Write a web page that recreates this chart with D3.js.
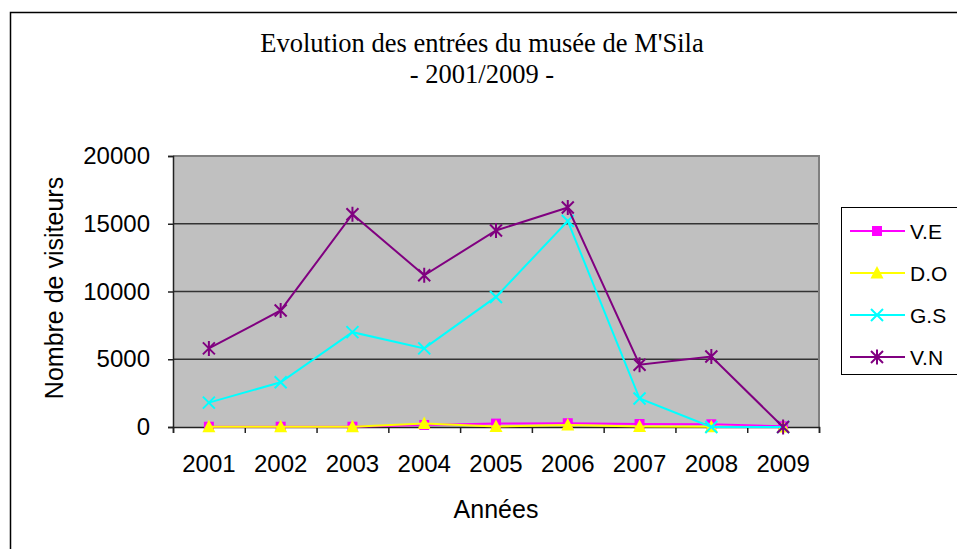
<!DOCTYPE html>
<html>
<head>
<meta charset="utf-8">
<script src="https://cdn.jsdelivr.net/npm/d3@7/dist/d3.min.js"></script>
<style>
  html, body { margin: 0; padding: 0; background: #fff; }
  svg { display: block; }
</style>
</head>
<body>
<svg id="chart" width="957" height="549"></svg>
<script>
// Visitor entries of the M'Sila museum, 2001–2009
const years = ["2001", "2002", "2003", "2004", "2005", "2006", "2007", "2008", "2009"];
const seriesNames = ["V.E", "D.O", "G.S", "V.N"];
const valuesVE = [20, 20, 20, 150, 250, 280, 220, 200, 50];
const valuesDO = [10, 10, 10, 250, 30, 150, 30, 10, 0];
const valuesGS = [1800, 3300, 7000, 5800, 9600, 15200, 2100, 0, 0];
const valuesVN = [5800, 8600, 15700, 11200, 14500, 16200, 4600, 5200, 0];
const yTicks = [0, 5000, 10000, 15000, 20000];

const titleLine1 = "Evolution des entrées du musée de M'Sila";
const titleLine2 = "- 2001/2009 -";
const xTitle = "Années";
const yTitle = "Nombre de visiteurs";

const series = [
  { name: seriesNames[0], values: valuesVE, color: "#ff00ff", marker: "square" },
  { name: seriesNames[1], values: valuesDO, color: "#ffff00", marker: "triangle" },
  { name: seriesNames[2], values: valuesGS, color: "#00ffff", marker: "x" },
  { name: seriesNames[3], values: valuesVN, color: "#800080", marker: "star" }
];

const svg = d3.select("#chart");
const axisFont = "'Liberation Sans', Arial, sans-serif";
const titleFont = "'Liberation Serif', 'Times New Roman', serif";
const tickSize = 24;
const axisTitleSize = 25;
const legendSize = 21;

const plot = { left: 173, right: 819, top: 156, bottom: 427 };

// outer chart frame
svg.append("rect")
  .attr("x", 10.5).attr("y", 12.5)
  .attr("width", 960).attr("height", 560)
  .attr("fill", "#fff").attr("stroke", "#000").attr("stroke-width", 1.5);

// title
svg.append("text")
  .attr("x", 482).attr("y", 52)
  .attr("text-anchor", "middle")
  .attr("font-family", titleFont).attr("font-size", 26.5)
  .text(titleLine1);
svg.append("text")
  .attr("x", 482).attr("y", 83)
  .attr("text-anchor", "middle")
  .attr("font-family", titleFont).attr("font-size", 26.5)
  .text(titleLine2);

const x = d3.scaleBand().domain(years).range([plot.left, plot.right]);
const xEdge = d3.scaleLinear().domain([0, years.length]).range([plot.left, plot.right]);
const y = d3.scaleLinear().domain([0, 20000]).range([plot.bottom, plot.top]);
const cx = d => x(d) + x.bandwidth() / 2;

// plot background
svg.append("rect")
  .attr("x", plot.left).attr("y", plot.top)
  .attr("width", plot.right - plot.left).attr("height", plot.bottom - plot.top)
  .attr("fill", "#c0c0c0");

// horizontal gridlines
svg.append("g")
  .selectAll("line")
  .data(yTicks.filter(t => t > 0 && t < 20000))
  .join("line")
  .attr("x1", plot.left).attr("x2", plot.right)
  .attr("y1", d => y(d)).attr("y2", d => y(d))
  .attr("stroke", "#333").attr("stroke-width", 1.5);

// plot frame (top and right in grey)
svg.append("path")
  .attr("d", `M${plot.left},${plot.top}H${plot.right}V${plot.bottom}`)
  .attr("fill", "none").attr("stroke", "#808080").attr("stroke-width", 2);

// y axis
const yAxis = svg.append("g")
  .attr("transform", `translate(${plot.left},0)`)
  .call(d3.axisLeft(y).tickValues(yTicks).tickSize(5).tickPadding(18).tickFormat(d3.format("d")));
yAxis.select(".domain").attr("stroke", "#222").attr("stroke-width", 1.5);
yAxis.selectAll(".tick line").attr("stroke", "#222").attr("stroke-width", 1.5);
yAxis.selectAll(".tick text")
  .attr("font-family", axisFont).attr("font-size", tickSize).attr("fill", "#000");

// x axis: tick marks at category boundaries
const xTicks = svg.append("g")
  .attr("transform", `translate(0,${plot.bottom})`)
  .call(d3.axisBottom(xEdge).tickValues(d3.range(years.length + 1)).tickSize(6).tickFormat(""));
xTicks.select(".domain").attr("stroke", "#222").attr("stroke-width", 1.5);
xTicks.selectAll(".tick line").attr("stroke", "#222").attr("stroke-width", 1.5);

// x axis: category labels
const xLabels = svg.append("g")
  .attr("transform", `translate(0,${plot.bottom})`)
  .call(d3.axisBottom(x).tickSize(0));
xLabels.select(".domain").remove();
xLabels.selectAll(".tick text")
  .attr("dy", 0)
  .attr("y", 45)
  .attr("font-family", axisFont).attr("font-size", tickSize).attr("fill", "#000");

// axis titles
svg.append("text")
  .attr("x", (plot.left + plot.right) / 2).attr("y", 518)
  .attr("text-anchor", "middle")
  .attr("font-family", axisFont).attr("font-size", axisTitleSize)
  .text(xTitle);
svg.append("text")
  .attr("transform", `translate(63,288) rotate(-90)`)
  .attr("text-anchor", "middle")
  .attr("font-family", axisFont).attr("font-size", axisTitleSize)
  .text(yTitle);

// marker drawing
function drawMarker(g, kind, color) {
  if (kind === "square") {
    g.append("rect").attr("x", -5).attr("y", -5).attr("width", 10).attr("height", 10)
      .attr("fill", color);
  } else if (kind === "triangle") {
    g.append("path").attr("d", "M0,-7L6.5,5.5L-6.5,5.5Z").attr("fill", color);
  } else if (kind === "x") {
    g.append("path").attr("d", "M-6,-6L6,6M-6,6L6,-6")
      .attr("stroke", color).attr("stroke-width", 2).attr("fill", "none");
  } else if (kind === "star") {
    g.append("path").attr("d", "M-6,-6L6,6M-6,6L6,-6M0,-7.5V7.5")
      .attr("stroke", color).attr("stroke-width", 2).attr("fill", "none");
  }
}

const line = d3.line().x((d, i) => cx(years[i])).y(d => y(d));

const seriesG = svg.append("g");
series.forEach(s => {
  const g = seriesG.append("g");
  g.append("path")
    .attr("d", line(s.values))
    .attr("fill", "none").attr("stroke", s.color).attr("stroke-width", 2);
  s.values.forEach((v, i) => {
    const m = g.append("g").attr("transform", `translate(${cx(years[i])},${y(v)})`);
    drawMarker(m, s.marker, s.color);
  });
});

// legend
const legend = svg.append("g");
legend.append("rect")
  .attr("x", 841.5).attr("y", 207.5)
  .attr("width", 130).attr("height", 167)
  .attr("fill", "#fff").attr("stroke", "#000").attr("stroke-width", 1);
const legendY = d3.scalePoint().domain(seriesNames).range([231, 357]);
series.forEach(s => {
  const ly = legendY(s.name);
  legend.append("line")
    .attr("x1", 850).attr("x2", 905).attr("y1", ly).attr("y2", ly)
    .attr("stroke", s.color).attr("stroke-width", 2);
  const m = legend.append("g").attr("transform", `translate(877,${ly})`);
  drawMarker(m, s.marker, s.color);
  legend.append("text")
    .attr("x", 910).attr("y", ly)
    .attr("dy", "0.36em")
    .attr("font-family", axisFont).attr("font-size", legendSize)
    .text(s.name);
});
</script>
</body>
</html>
